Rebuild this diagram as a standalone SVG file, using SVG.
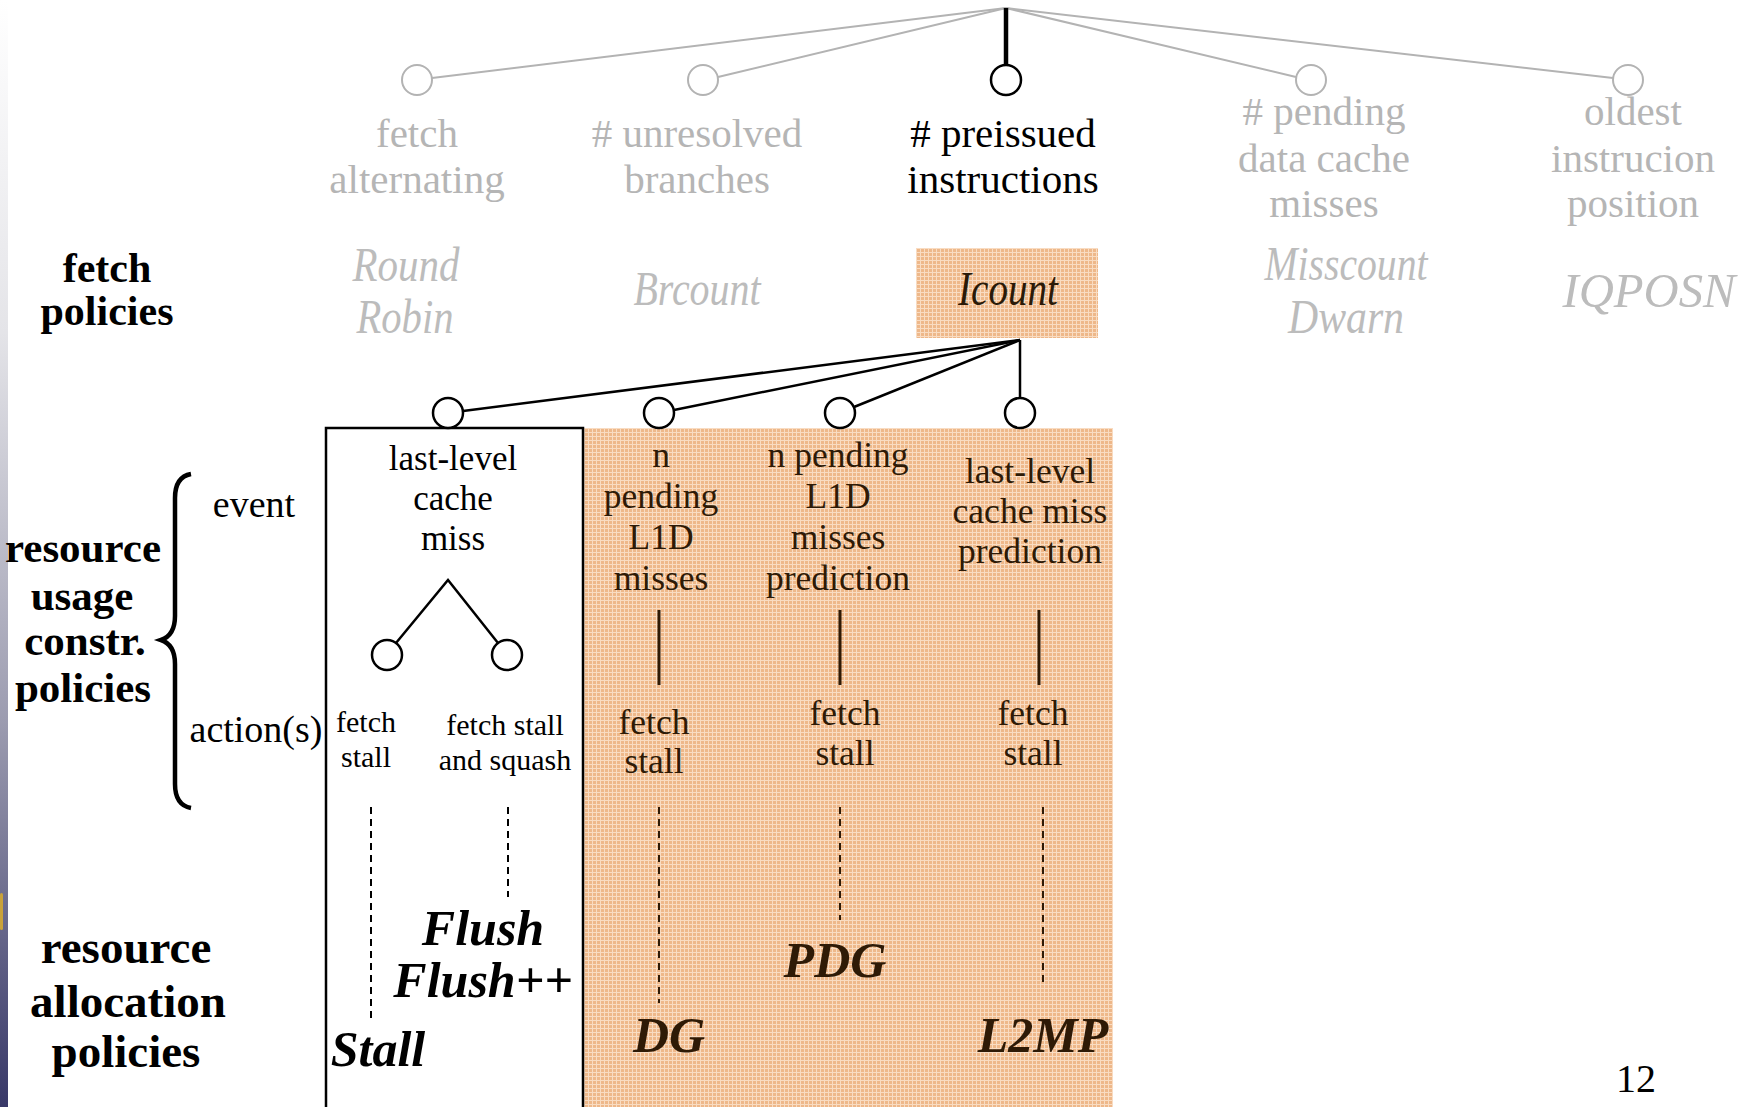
<svg xmlns="http://www.w3.org/2000/svg" width="1747" height="1107" viewBox="0 0 1747 1107">
  <defs>
    <linearGradient id="edge" x1="0" y1="0" x2="0" y2="1">
      <stop offset="0" stop-color="#ffffff"/>
      <stop offset="0.3" stop-color="#e4e4e8"/>
      <stop offset="0.65" stop-color="#9c9cb0"/>
      <stop offset="1" stop-color="#383868"/>
    </linearGradient>
    <pattern id="weave" width="4" height="4" patternUnits="userSpaceOnUse">
      <rect width="4" height="4" fill="#eeb88a"/>
      <rect width="4" height="1" fill="#f9dcc2"/>
      <rect width="1" height="4" fill="#f9dcc2"/>
    </pattern>
  </defs>
  <style>
    text { font-family: "Liberation Serif", "DejaVu Serif", serif; }
    .crit { font-size: 41px; fill: #b5b5b5; text-anchor: middle; }
    .crit-on { font-size: 41px; fill: #000; text-anchor: middle; }
    .pol { font-size: 48px; font-style: italic; fill: #bcbcbc; text-anchor: middle; }
    .pol-on { font-size: 48px; font-style: italic; fill: #2a1a08; text-anchor: middle; }
    .head { font-weight: bold; fill: #000; text-anchor: middle; }
    .lbl { font-size: 38px; fill: #000; text-anchor: middle; }
    .ev { font-size: 35px; fill: #000; text-anchor: middle; }
    .ev-o { font-size: 35.5px; fill: #2e1a06; text-anchor: middle; }
    .act { font-size: 30px; fill: #000; text-anchor: middle; }
    .alloc { font-size: 50px; font-weight: bold; font-style: italic; fill: #000; text-anchor: middle; }
    .alloc-o { font-size: 50px; font-weight: bold; font-style: italic; fill: #2e1a06; text-anchor: middle; }
    .gline { stroke: #b3b3b3; stroke-width: 2; fill: none; }
    .bline { stroke: #000; stroke-width: 2.5; fill: none; }
    .gnode { stroke: #b3b3b3; stroke-width: 2; fill: #fff; }
    .bnode { stroke: #000; stroke-width: 2.5; fill: #fff; }
    .solid-o { stroke: #2e1a06; stroke-width: 3; }
    .dash { stroke: #000; stroke-width: 2; stroke-dasharray: 7 5; }
    .dash-o { stroke: #2e1a06; stroke-width: 2; stroke-dasharray: 7 5; }
  </style>

  <rect width="1747" height="1107" fill="#fff"/>
  <!-- slide edge band -->
  <rect x="0" y="0" width="8" height="1107" fill="url(#edge)"/>
  <rect x="0" y="893" width="3" height="37" rx="1.5" fill="#c9a23a"/>

  <!-- shaded area of the chosen branch -->
  <rect x="583" y="428" width="530" height="679" fill="url(#weave)"/>
  <rect x="916" y="248" width="182" height="90" fill="url(#weave)"/>

  <!-- connectors -->
  <g id="connectors">
    <line class="gline" x1="1006" y1="8" x2="432" y2="78"/>
    <line class="gline" x1="1006" y1="8" x2="718" y2="77"/>
    <line class="gline" x1="1006" y1="8" x2="1296" y2="77"/>
    <line class="gline" x1="1006" y1="8" x2="1613" y2="78"/>
    <line x1="1006" y1="8" x2="1006" y2="65" stroke="#000" stroke-width="4.5"/>
    <line class="bline" x1="1020" y1="340" x2="463" y2="411"/>
    <line class="bline" x1="1020" y1="340" x2="674" y2="410"/>
    <line class="bline" x1="1020" y1="340" x2="854" y2="407"/>
    <line class="bline" x1="1020" y1="340" x2="1020" y2="398"/>
    <polyline class="bline" stroke-width="2" points="396,643 448,580 498,643"/>
    <line class="solid-o" x1="659" y1="610" x2="659" y2="685"/>
    <line class="solid-o" x1="840" y1="610" x2="840" y2="685"/>
    <line class="solid-o" x1="1039" y1="610" x2="1039" y2="685"/>
    <line class="dash" x1="371" y1="807" x2="371" y2="1018"/>
    <line class="dash" x1="508" y1="807" x2="508" y2="897"/>
    <line class="dash-o" x1="659" y1="807" x2="659" y2="1003"/>
    <line class="dash-o" x1="840" y1="807" x2="840" y2="920"/>
    <line class="dash-o" x1="1043" y1="807" x2="1043" y2="983"/>
  </g>

  <!-- fetch criteria -->
  <g id="crit-alternating">
    <circle class="gnode" cx="417" cy="80" r="15"/>
    <text class="crit" x="417" y="147">fetch</text>
    <text class="crit" x="417" y="193">alternating</text>
  </g>
  <g id="crit-branches">
    <circle class="gnode" cx="703" cy="80" r="15"/>
    <text class="crit" x="697" y="147"># unresolved</text>
    <text class="crit" x="697" y="193">branches</text>
  </g>
  <g id="crit-preissued">
    <circle class="bnode" cx="1006" cy="80" r="15"/>
    <text class="crit-on" x="1003" y="147"># preissued</text>
    <text class="crit-on" x="1003" y="193">instructions</text>
  </g>
  <g id="crit-misses">
    <circle class="gnode" cx="1311" cy="80" r="15"/>
    <text class="crit" x="1324" y="125"># pending</text>
    <text class="crit" x="1324" y="172">data cache</text>
    <text class="crit" x="1324" y="217">misses</text>
  </g>
  <g id="crit-position">
    <circle class="gnode" cx="1628" cy="80" r="15"/>
    <text class="crit" x="1633" y="125">oldest</text>
    <text class="crit" x="1633" y="172">instrucion</text>
    <text class="crit" x="1633" y="217">position</text>
  </g>

  <!-- fetch policies -->
  <g id="label-fetch">
    <text class="head" font-size="42" x="107" y="282">fetch</text>
    <text class="head" font-size="42" x="107" y="325">policies</text>
  </g>
  <g id="pol-roundrobin">
    <text class="pol" x="406" y="281" textLength="107" lengthAdjust="spacingAndGlyphs">Round</text>
    <text class="pol" x="405" y="333" textLength="97" lengthAdjust="spacingAndGlyphs">Robin</text>
  </g>
  <g id="pol-brcount">
    <text class="pol" x="697" y="305" textLength="127" lengthAdjust="spacingAndGlyphs">Brcount</text>
  </g>
  <g id="pol-icount">
    <text class="pol-on" x="1008" y="305" textLength="100" lengthAdjust="spacingAndGlyphs">Icount</text>
  </g>
  <g id="pol-misscount">
    <text class="pol" x="1346" y="280" textLength="163" lengthAdjust="spacingAndGlyphs">Misscount</text>
    <text class="pol" x="1346" y="333" textLength="116" lengthAdjust="spacingAndGlyphs">Dwarn</text>
  </g>
  <g id="pol-iqposn">
    <text class="pol" x="1649" y="307" textLength="173" lengthAdjust="spacingAndGlyphs">IQPOSN</text>
  </g>

  <!-- resource usage constraint policies -->
  <g id="label-usage">
    <text class="head" font-size="43" x="83" y="562">resource</text>
    <text class="head" font-size="43" x="82" y="610">usage</text>
    <text class="head" font-size="43" x="85" y="655">constr.</text>
    <text class="head" font-size="43" x="83" y="702">policies</text>
    <path d="M191 474 C180 476 175 484 175 498 L175 616 C175 630 170 637 161 640 C170 643 175 650 175 664 L175 784 C175 798 180 806 191 808" fill="none" stroke="#000" stroke-width="4.5"/>
    <text class="lbl" x="254" y="517">event</text>
    <text class="lbl" x="256" y="742">action(s)</text>
  </g>

  <g id="col-llc-miss">
    <path d="M326 1107 V428 H583 V1107" fill="none" stroke="#000" stroke-width="2.5"/>
    <circle class="bnode" cx="448" cy="413" r="15"/>
    <text class="ev" x="453" y="470">last-level</text>
    <text class="ev" x="453" y="510">cache</text>
    <text class="ev" x="453" y="550">miss</text>
    <circle class="bnode" stroke-width="2" cx="387" cy="655" r="15"/>
    <circle class="bnode" stroke-width="2" cx="507" cy="655" r="15"/>
    <text class="act" x="366" y="732">fetch</text>
    <text class="act" x="366" y="767">stall</text>
    <text class="act" x="505" y="735">fetch stall</text>
    <text class="act" x="505" y="770">and squash</text>
    <text class="alloc" x="483" y="945">Flush</text>
    <text class="alloc" x="483" y="997">Flush++</text>
    <text class="alloc" x="378" y="1066">Stall</text>
  </g>

  <g id="col-l1d-misses">
    <circle class="bnode" cx="659" cy="413" r="15"/>
    <text class="ev-o" x="661" y="467">n</text>
    <text class="ev-o" x="661" y="508">pending</text>
    <text class="ev-o" x="661" y="549">L1D</text>
    <text class="ev-o" x="661" y="590">misses</text>
    <text class="ev-o" x="654" y="734">fetch</text>
    <text class="ev-o" x="654" y="773">stall</text>
    <text class="alloc-o" x="669" y="1052">DG</text>
  </g>

  <g id="col-l1d-prediction">
    <circle class="bnode" cx="840" cy="413" r="15"/>
    <text class="ev-o" x="838" y="467">n pending</text>
    <text class="ev-o" x="838" y="508">L1D</text>
    <text class="ev-o" x="838" y="549">misses</text>
    <text class="ev-o" x="838" y="590">prediction</text>
    <text class="ev-o" x="845" y="725">fetch</text>
    <text class="ev-o" x="845" y="765">stall</text>
    <text class="alloc-o" x="835" y="977">PDG</text>
  </g>

  <g id="col-llc-prediction">
    <circle class="bnode" cx="1020" cy="413" r="15"/>
    <text class="ev-o" x="1030" y="483">last-level</text>
    <text class="ev-o" x="1030" y="523">cache miss</text>
    <text class="ev-o" x="1030" y="563">prediction</text>
    <text class="ev-o" x="1033" y="725">fetch</text>
    <text class="ev-o" x="1033" y="765">stall</text>
    <text class="alloc-o" x="1043" y="1052">L2MP</text>
  </g>

  <!-- resource allocation policies -->
  <g id="label-allocation">
    <text class="head" font-size="47" x="126" y="963">resource</text>
    <text class="head" font-size="47" x="128" y="1017">allocation</text>
    <text class="head" font-size="47" x="126" y="1067">policies</text>
  </g>

  <text x="1636" y="1092" font-size="40" fill="#000" text-anchor="middle">12</text>
</svg>
